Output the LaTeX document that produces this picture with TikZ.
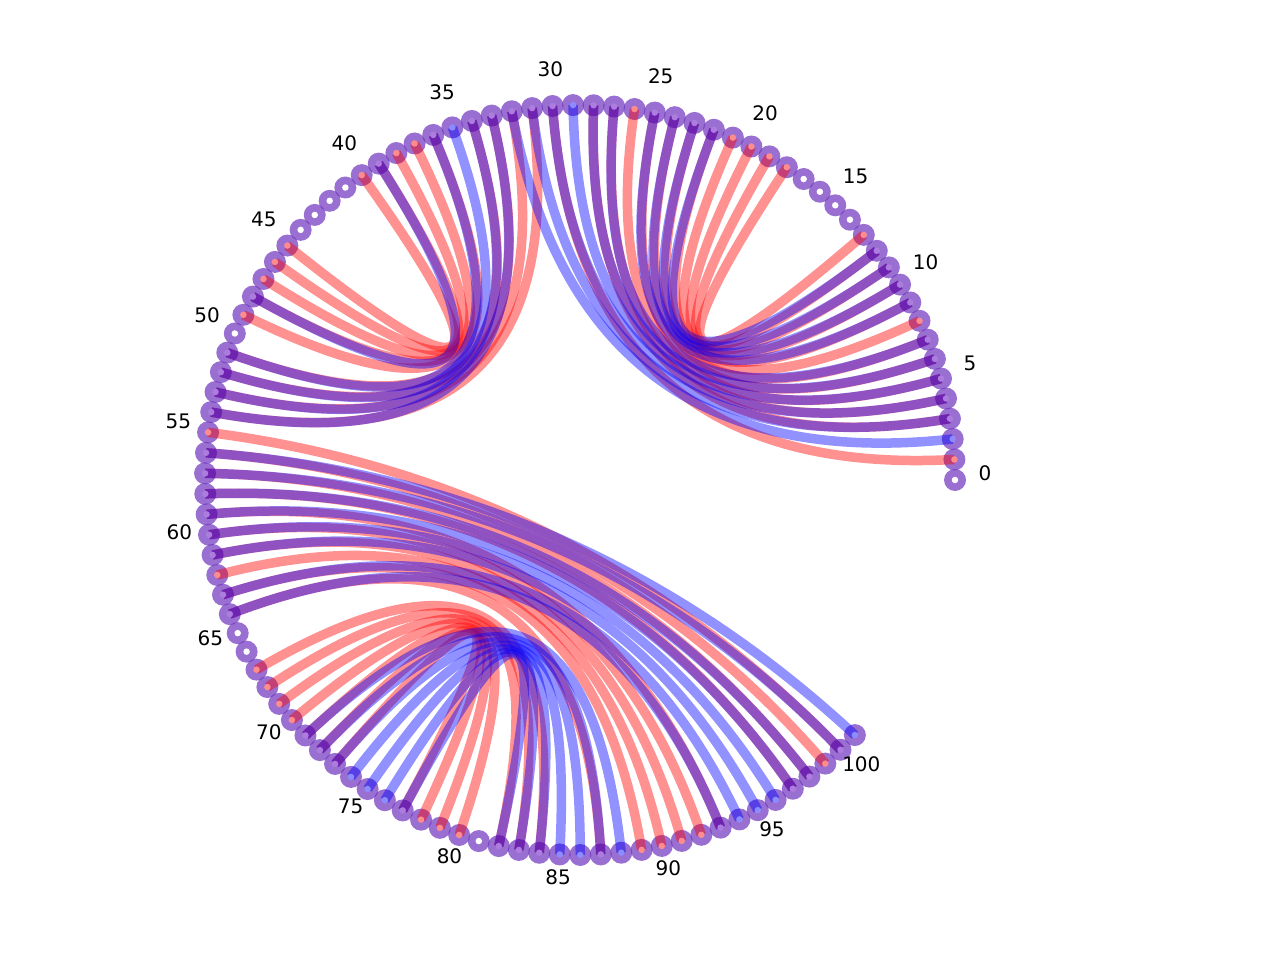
\documentclass[tikz,border=0pt]{standalone}
\usepackage{fontspec}
\setmainfont{DejaVu Sans}
\usetikzlibrary{calc}
\definecolor{lred}{RGB}{255,0,0}
\definecolor{lblue}{RGB}{0,0,255}
\definecolor{ringc}{RGB}{110,50,190}
\definecolor{dotW}{RGB}{255,255,255}
\definecolor{dotR}{RGB}{255,140,140}
\definecolor{dotB}{RGB}{140,140,255}
\definecolor{dotP}{RGB}{172,125,222}
\tikzset{
 redlink/.style={draw=lred, draw opacity=0.43, line width=9.5pt, line cap=butt},
 bluelink/.style={draw=lblue, draw opacity=0.43, line width=9.5pt, line cap=butt},
 ring/.style={circle, fill=ringc, fill opacity=0.7, minimum size=22pt, inner sep=0pt},
 dotm/.style={circle, minimum size=6.5pt, inner sep=0pt},
 lbl/.style={font=\fontsize{20}{24}\selectfont, text=black}
}
\newcommand\pairlink[3]{\draw[#1] (n#2) .. controls ($(n#2)!2/3!(c)$) and ($(n#3)!2/3!(c)$) .. (n#3);}
\begin{document}
\begin{tikzpicture}[x=1pt,y=1pt]
\useasboundingbox (0,0) rectangle (1280,-960);
\coordinate (c) at (580,-480);
\foreach \i in {0,...,101}{\coordinate (n\i) at ($(c)+({\i*3.14}:375)$);}
% rings
\foreach \i in {0,...,101}{\node[ring] (r\i) at (n\i) {};}
% red structure
\foreach \a/\b in {1/30,3/28,4/27,5/26,6/25,7/24,8/23,9/22,10/21,11/20,12/19,13/18,
  31/54,32/53,33/52,34/51,36/49,37/48,38/47,39/46,40/45,
  55/100,56/99,57/98,58/97,59/93,60/92,61/91,62/90,63/89,64/87,67/84,68/83,69/82,70/80,71/79,72/78,73/77}
  {\pairlink{redlink}{\a}{\b}}
% blue structure
\foreach \a/\b in {2/32,3/31,4/30,5/29,6/28,7/27,9/25,10/24,11/23,12/22,
  33/54,34/53,35/52,36/51,39/48,
  56/101,57/100,58/98,59/97,60/96,61/95,63/94,64/93,71/88,72/87,73/86,74/85,75/84,76/83,77/82}
  {\pairlink{bluelink}{\a}{\b}}
% inner dots
\foreach \i/\t in {0/W,1/R,2/B,3/P,4/P,5/P,6/P,7/P,8/R,9/P,10/P,11/P,12/P,13/R,14/W,15/W,16/W,17/W,
  18/R,19/R,20/R,21/R,22/P,23/P,24/P,25/P,26/R,27/P,28/P,29/B,30/P,31/P,32/P,33/P,34/P,35/B,
  36/P,37/R,38/R,39/P,40/R,41/W,42/W,43/W,44/W,45/R,46/R,47/R,48/P,49/R,50/W,51/P,52/P,53/P,
  54/P,55/R,56/P,57/P,58/P,59/P,60/P,61/P,62/R,63/P,64/P,65/W,66/W,67/R,68/R,69/R,70/R,71/P,
  72/P,73/P,74/B,75/B,76/B,77/P,78/R,79/R,80/R,81/W,82/P,83/P,84/P,85/B,86/B,87/P,88/B,89/R,
  90/R,91/R,92/R,93/P,94/B,95/B,96/B,97/P,98/P,99/R,100/P,101/B}
  {\node[dotm, fill=dot\t] (d\i) at (n\i) {};}
% labels
\foreach \i in {0,5,...,100}{\node[lbl] (l\i) at ($(c)+({\i*3.14}:405)+(0,7)$) {\i};}
\end{tikzpicture}
\end{document}
